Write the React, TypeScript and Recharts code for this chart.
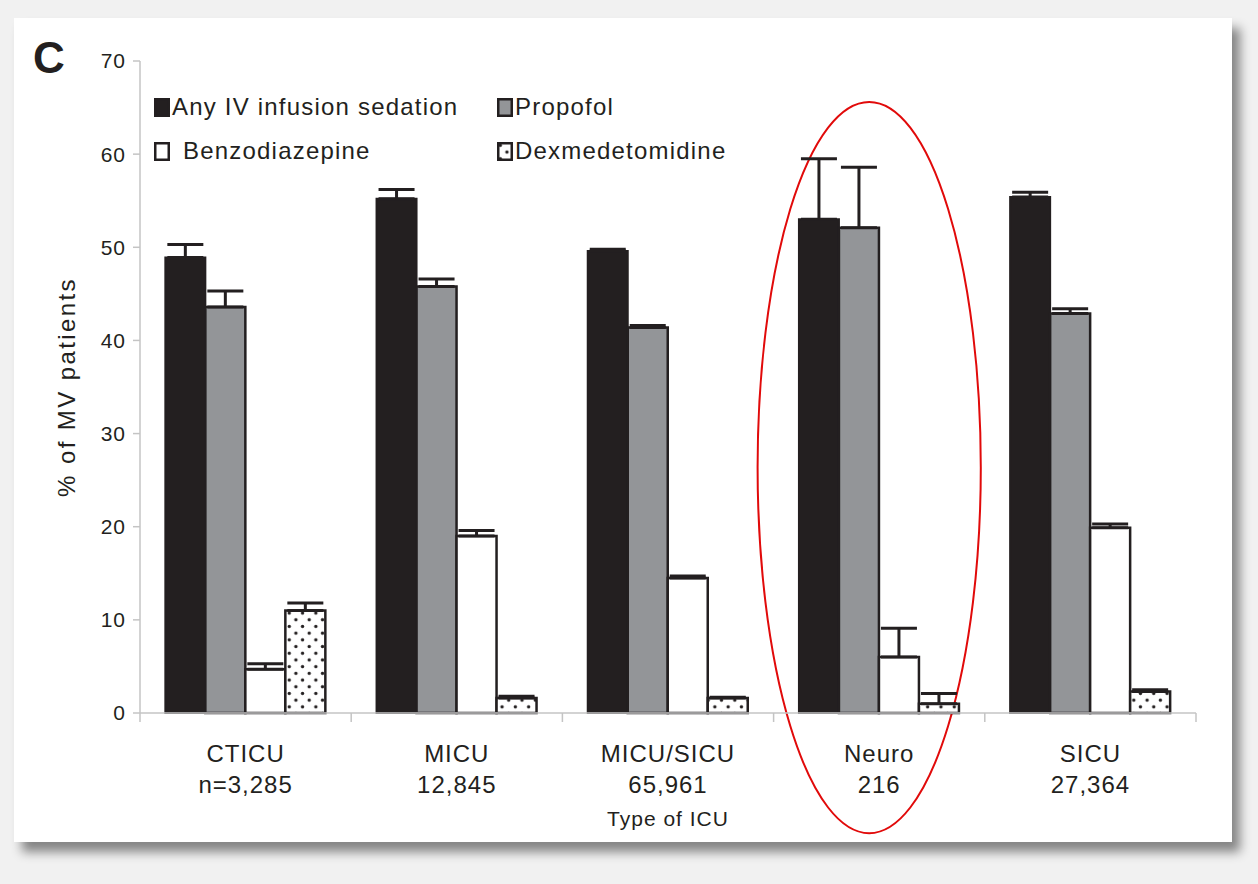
import React from 'react';
import {
  BarChart,
  Bar,
  XAxis,
  YAxis,
  ErrorBar,
  Legend,
  ReferenceArea,
} from 'recharts';

// ICU types and sample sizes
const categories = ['CTICU', 'MICU', 'MICU/SICU', 'Neuro', 'SICU'];
const sampleSizes = ['n=3,285', '12,845', '65,961', '216', '27,364'];

// % of MV patients per agent
const anyIv = [48.9, 55.2, 49.6, 53.0, 55.4];
const propofol = [43.6, 45.8, 41.4, 52.1, 42.9];
const benzo = [4.7, 19.0, 14.5, 6.0, 19.9];
const dexmed = [11.0, 1.6, 1.6, 1.0, 2.3];

// upper error (one-sided)
const anyIvErr = [1.4, 1.0, 0.2, 6.5, 0.5];
const propofolErr = [1.7, 0.8, 0.2, 6.5, 0.5];
const benzoErr = [0.6, 0.6, 0.2, 3.1, 0.4];
const dexmedErr = [0.8, 0.2, 0.1, 1.1, 0.2];

const yTicks = [0, 10, 20, 30, 40, 50, 60, 70];

const seriesNames = ['Any IV infusion sedation', 'Propofol', 'Benzodiazepine', 'Dexmedetomidine'];

const data = categories.map((name, i) => ({
  name,
  n: sampleSizes[i],
  any: anyIv[i],
  anyErr: [0, anyIvErr[i]],
  propofol: propofol[i],
  propofolErr: [0, propofolErr[i]],
  benzo: benzo[i],
  benzoErr: [0, benzoErr[i]],
  dex: dexmed[i],
  dexErr: [0, dexmedErr[i]],
}));

const INK = '#231f20';
const AXIS = '#c4c4c4';
const FONT = '"Liberation Sans", Arial, sans-serif';

const W = 1258;
const H = 884;
const M = { top: 61, right: 62, bottom: 51, left: 60 };
const Y_AXIS_W = 80;
const BAND_HALF = (W - M.left - Y_AXIS_W - M.right) / categories.length / 2;

const CategoryTick = (props: any) => {
  const { x, y, payload, index } = props;
  const isLast = index === categories.length - 1;
  return (
    <g>
      <line x1={x - BAND_HALF} y1={y} x2={x - BAND_HALF} y2={y + 9} stroke={AXIS} strokeWidth={1.5} />
      {isLast && (
        <line x1={x + BAND_HALF} y1={y} x2={x + BAND_HALF} y2={y + 9} stroke={AXIS} strokeWidth={1.5} />
      )}
      <text x={x} y={y + 49} textAnchor="middle" fontSize={24} letterSpacing={1} fill={INK} fontFamily={FONT}>
        {payload.value}
      </text>
      <text x={x} y={y + 80} textAnchor="middle" fontSize={24} letterSpacing={1} fill={INK} fontFamily={FONT}>
        {sampleSizes[index]}
      </text>
    </g>
  );
};

const swatchFill = ['#231f20', '#939598', '#ffffff', 'url(#dots)'];

const LegendBox = () => {
  const cell = (i: number, left: number, top: number, textGap: number) => (
    <div key={i} style={{ position: 'absolute', left, top, display: 'flex', alignItems: 'center' }}>
      <svg width={16} height={19}>
        <rect x={1.25} y={1.25} width={13.5} height={16.5} fill={swatchFill[i]} stroke={INK} strokeWidth={2.5} />
      </svg>
      <span
        style={{
          marginLeft: textGap,
          fontSize: 24,
          letterSpacing: 1.2,
          color: INK,
          fontFamily: FONT,
          whiteSpace: 'nowrap',
        }}
      >
        {seriesNames[i]}
      </span>
    </div>
  );
  return (
    <div style={{ position: 'relative', width: 640, height: 80 }}>
      {cell(0, 0, 0, 2)}
      {cell(1, 343, 0, 2)}
      {cell(2, 0, 44, 13)}
      {cell(3, 343, 44, 2)}
    </div>
  );
};

const NeuroEllipse = (props: any) => {
  const { x, y, width, height } = props;
  return (
    <ellipse
      cx={x + width / 2 - 10}
      cy={y + height / 2}
      rx={width / 2 + 6}
      ry={height / 2}
      fill="none"
      stroke="#e10a0a"
      strokeWidth={2}
    />
  );
};

export default function App() {
  return (
    <div style={{ position: 'relative', width: W, height: H, background: '#f1f1f1', overflow: 'hidden' }}>
      <style>{'body{margin:0}'}</style>
      <div
        style={{
          position: 'absolute',
          left: 14,
          top: 18,
          width: 1218,
          height: 824,
          background: '#ffffff',
          boxShadow: '8px 10px 10px rgba(0,0,0,0.45)',
        }}
      />
      <div
        style={{
          position: 'absolute',
          left: 33,
          top: 33,
          fontFamily: FONT,
          fontWeight: 'bold',
          fontSize: 44,
          color: INK,
        }}
      >
        C
      </div>
      <div style={{ position: 'absolute', left: 0, top: 0 }}>
        <BarChart
          width={W}
          height={H}
          data={data}
          margin={M}
          barCategoryGap="12%"
          barGap={0}
        >
          <defs>
            <pattern id="dots" width="13.3" height="13.4" patternUnits="userSpaceOnUse">
              <rect width="13.3" height="13.4" fill="#ffffff" />
              <circle cx="3.3" cy="3.3" r="1.7" fill={INK} />
              <circle cx="9.95" cy="10" r="1.7" fill={INK} />
            </pattern>
          </defs>
          <XAxis
            xAxisId="top"
            orientation="top"
            dataKey="name"
            height={0}
            tick={false}
            tickLine={false}
            axisLine={{ stroke: '#d2d2d2', strokeWidth: 1.5 }}
          />
          <XAxis
            xAxisId="cat"
            dataKey="name"
            height={120}
            interval={0}
            tickLine={false}
            tickSize={0}
            tickMargin={0}
            axisLine={{ stroke: AXIS, strokeWidth: 1.5 }}
            tick={<CategoryTick />}
            label={{
              value: 'Type of ICU',
              position: 'insideBottom',
              offset: 7,
              fontSize: 21,
              letterSpacing: 1,
              fill: INK,
              fontFamily: FONT,
            }}
          />
          <YAxis
            yAxisId="left"
            domain={[0, 70]}
            ticks={yTicks}
            width={Y_AXIS_W}
            tickSize={7}
            tickMargin={7}
            tickLine={{ stroke: AXIS, strokeWidth: 1.5 }}
            axisLine={{ stroke: AXIS, strokeWidth: 1.5 }}
            tick={{ fontSize: 21, letterSpacing: 1, fill: INK, fontFamily: FONT }}
            label={{
              value: '% of MV patients',
              angle: -90,
              position: 'insideLeft',
              offset: 6,
              fontSize: 24,
              letterSpacing: 2.4,
              fill: INK,
              fontFamily: FONT,
              style: { textAnchor: 'middle' },
            }}
          />
          <YAxis
            yAxisId="right"
            orientation="right"
            domain={[0, 70]}
            width={0}
            tick={false}
            tickLine={false}
            axisLine={{ stroke: '#d2d2d2', strokeWidth: 1.5 }}
          />
          <Legend
            layout="horizontal"
            verticalAlign="middle"
            content={<LegendBox />}
            wrapperStyle={{ position: 'absolute', left: 154, top: 93, width: 640, height: 80 }}
          />
          <Bar xAxisId="cat" yAxisId="left" dataKey="any" name={seriesNames[0]} fill="#231f20" stroke={INK} strokeWidth={2} isAnimationActive={false}>
            <ErrorBar dataKey="anyErr" direction="y" width={18} stroke={INK} strokeWidth={3} />
          </Bar>
          <Bar xAxisId="cat" yAxisId="left" dataKey="propofol" name={seriesNames[1]} fill="#939598" stroke={INK} strokeWidth={2.5} isAnimationActive={false}>
            <ErrorBar dataKey="propofolErr" direction="y" width={18} stroke={INK} strokeWidth={3} />
          </Bar>
          <Bar xAxisId="cat" yAxisId="left" dataKey="benzo" name={seriesNames[2]} fill="#ffffff" stroke={INK} strokeWidth={2.5} isAnimationActive={false}>
            <ErrorBar dataKey="benzoErr" direction="y" width={18} stroke={INK} strokeWidth={3} />
          </Bar>
          <Bar xAxisId="cat" yAxisId="left" dataKey="dex" name={seriesNames[3]} fill="url(#dots)" stroke={INK} strokeWidth={2.5} isAnimationActive={false}>
            <ErrorBar dataKey="dexErr" direction="y" width={18} stroke={INK} strokeWidth={3} />
          </Bar>
          <ReferenceArea
            xAxisId="cat"
            yAxisId="left"
            x1="Neuro"
            x2="Neuro"
            y1={-12.9}
            y2={65.6}
            ifOverflow="visible"
            shape={<NeuroEllipse />}
          />
        </BarChart>
      </div>
    </div>
  );
}
